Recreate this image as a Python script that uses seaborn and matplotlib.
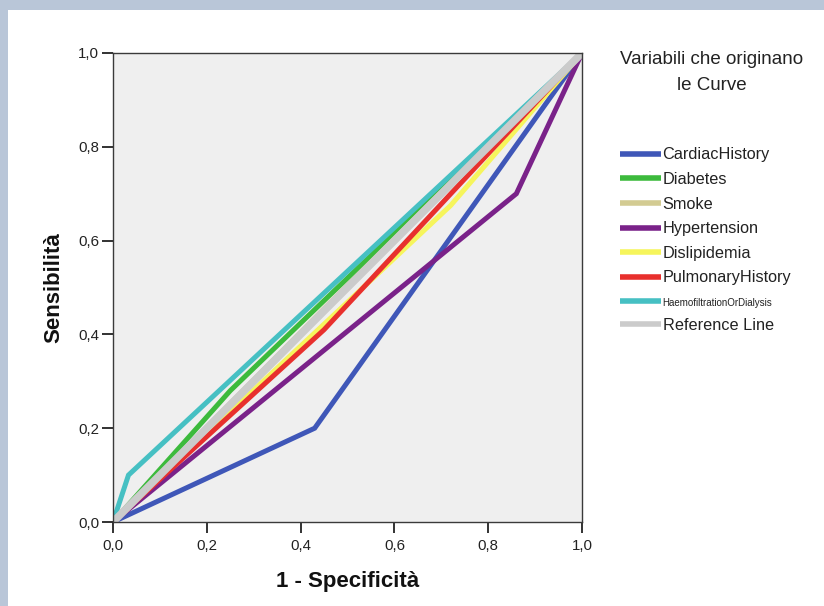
import matplotlib
matplotlib.use("Agg")
import matplotlib.pyplot as plt
import matplotlib.patches as mpatches
import seaborn as sns
import pandas as pd

# ---- data ----
variables = ["CardiacHistory", "Diabetes", "Smoke", "Hypertension", "Dislipidemia",
             "PulmonaryHistory", "HaemofiltrationOrDialysis", "Reference Line"]
fpr_cardiac = [0.0, 0.43, 1.0]
tpr_cardiac = [0.0, 0.20, 1.0]
fpr_diabetes = [0.0, 0.25, 1.0]
tpr_diabetes = [0.0, 0.28, 1.0]
fpr_smoke = [0.0, 0.45, 1.0]
tpr_smoke = [0.0, 0.455, 1.0]
fpr_hyper = [0.0, 0.86, 1.0]
tpr_hyper = [0.0, 0.70, 1.0]
fpr_disli = [0.0, 0.72, 1.0]
tpr_disli = [0.0, 0.675, 1.0]
fpr_pulm = [0.0, 0.45, 1.0]
tpr_pulm = [0.0, 0.41, 1.0]
fpr_haemo = [0.0, 0.033, 1.0]
tpr_haemo = [0.0, 0.10, 1.0]
fpr_ref = [0.0, 1.0]
tpr_ref = [0.0, 1.0]

colors = ["#3f57b8", "#3cba3c", "#d3cb92", "#7a2289", "#f6f55c",
          "#e8302d", "#46c0c3", "#cbcbcb"]
tick_vals = [0.0, 0.2, 0.4, 0.6, 0.8, 1.0]
tick_labels = ["0,0", "0,2", "0,4", "0,6", "0,8", "1,0"]

series = [(fpr_cardiac, tpr_cardiac), (fpr_diabetes, tpr_diabetes), (fpr_smoke, tpr_smoke),
          (fpr_hyper, tpr_hyper), (fpr_disli, tpr_disli), (fpr_pulm, tpr_pulm),
          (fpr_haemo, tpr_haemo), (fpr_ref, tpr_ref)]
rows = []
for name, (xs, ys) in zip(variables, series):
    for i, (x, y) in enumerate(zip(xs, ys)):
        rows.append({"fpr": x, "tpr": y, "variable": name, "order": i})
df = pd.DataFrame(rows)

sns.set_theme(style="white")
plt.rcParams["font.family"] = ["Liberation Sans", "DejaVu Sans"]

W, H = 824, 606
fig = plt.figure(figsize=(W / 100, H / 100), dpi=100)
fig.patch.set_facecolor("#b9c6d8")
bg = mpatches.Rectangle((8 / W, 0), 1, 1 - 10 / H, transform=fig.transFigure,
                        facecolor="white", edgecolor="none", zorder=-10)
fig.add_artist(bg)

ax = fig.add_axes([113 / W, (H - 522) / H, 469 / W, 469 / H])
ax.set_zorder(1)
ax.set_facecolor("#efefef")

palette = dict(zip(variables, colors))
for name in variables:
    sub = df[df["variable"] == name]
    sns.lineplot(data=sub, x="fpr", y="tpr", color=palette[name], sort=False,
                 estimator=None, linewidth=5.5 if name == "Reference Line" else 3.6,
                 ax=ax, label=name, legend=False, solid_capstyle="round",
                 solid_joinstyle="miter")

ax.set_xlim(0, 1)
ax.set_ylim(0, 1)
ax.set_xticks(tick_vals)
ax.set_yticks(tick_vals)
ax.set_xticklabels(tick_labels)
ax.set_yticklabels(tick_labels)
for sp in ax.spines.values():
    sp.set_color("#3a3a3a")
    sp.set_linewidth(1.0)
ax.tick_params(axis="both", which="major", bottom=True, left=True, direction="out",
               length=8, width=1.3, color="#222222",
               labelsize=10.8, labelcolor="#222222", pad=2)
ax.tick_params(axis="x", pad=4)
ax.set_xlabel("1 - Specificità", fontsize=16, fontweight="bold", color="#111111", labelpad=13)
ax.set_ylabel("Sensibilità", fontsize=16, fontweight="bold", color="#111111", labelpad=10)

# legend title
fig.text(712 / W, 1 - 60 / H, "Variabili che originano", ha="center", va="center",
         fontsize=13.5, color="#222222")
fig.text(712 / W, 1 - 85 / H, "le Curve", ha="center", va="center",
         fontsize=13.5, color="#222222")

handles, labels = ax.get_legend_handles_labels()
leg = fig.legend(handles, labels, loc="upper left",
                 bbox_to_anchor=(613 / W, 1 - 141 / H), frameon=False,
                 handlelength=2.55, handletextpad=0.1, labelspacing=0.59,
                 fontsize=11.7, borderaxespad=0)
for h in leg.get_lines():
    h.set_linewidth(4)
    h.set_solid_capstyle("butt")
leg.get_texts()[6].set_fontsize(7)
for t in leg.get_texts():
    t.set_color("#222222")

fig.savefig("out.png", dpi=100)
